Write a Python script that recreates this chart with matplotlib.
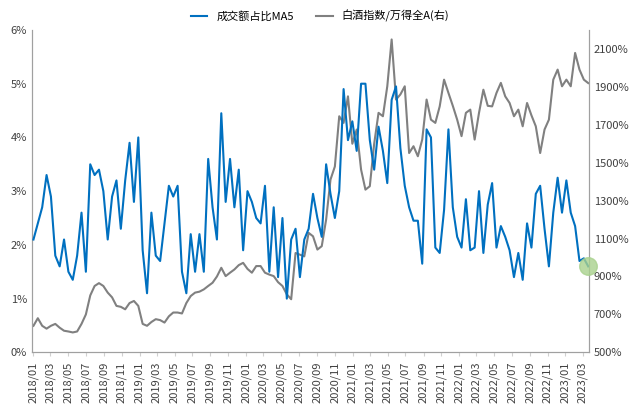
import matplotlib
matplotlib.use('Agg')
import matplotlib.pyplot as plt
import matplotlib.dates as mdates
from matplotlib.ticker import FuncFormatter
import pandas as pd
import numpy as np

plt.rcParams['font.family'] = ['Noto Sans CJK SC', 'DejaVu Sans']

# 约半月一个点 2018/01 - 2023/03
dates = pd.date_range('2018-01-02', '2023-03-20', periods=128)

# 成交额占比MA5 (%)
share_ma5 = [
    2.1, 2.4, 2.7, 3.3, 2.9, 1.8, 1.6, 2.1, 1.5, 1.35, 1.8, 2.6,
    1.5, 3.5, 3.3, 3.4, 3.0, 2.1, 2.9, 3.2, 2.3, 3.2, 3.9, 2.8,
    4.0, 1.9, 1.1, 2.6, 1.8, 1.7, 2.4, 3.1, 2.9, 3.1, 1.5, 1.1,
    2.2, 1.5, 2.2, 1.5, 3.6, 2.7, 2.1, 4.45, 2.8, 3.6, 2.7, 3.4,
    1.9, 3.0, 2.8, 2.5, 2.4, 3.1, 1.5, 2.7, 1.4, 2.5, 1.0, 2.1,
    2.3, 1.4, 2.1, 2.3, 2.95, 2.5, 2.15, 3.5, 2.95, 2.5, 3.0, 4.9,
    3.95, 4.3, 3.75, 5.0, 5.0, 3.95, 3.4, 4.2, 3.75, 3.15, 4.7, 4.95,
    3.8, 3.1, 2.7, 2.45, 2.45, 1.65, 4.15, 4.0, 1.95, 1.85, 2.65, 4.15,
    2.7, 2.15, 1.95, 2.85, 1.9, 1.95, 3.0, 1.85, 2.75, 3.15, 1.95, 2.35,
    2.15, 1.9, 1.4, 1.85, 1.35, 2.4, 1.95, 2.95, 3.1, 2.3, 1.6, 2.6,
    3.25, 2.6, 3.2, 2.6, 2.35, 1.7, 1.75, 1.6,
]

# 白酒指数/万得全A (%)
baijiu_ratio = [
    640, 680, 640, 625, 640, 650, 630, 614, 610, 605, 610, 650,
    700, 800, 850, 865, 850, 815, 790, 745, 740, 727, 760, 771,
    745, 650, 640, 660, 675, 670, 657, 690, 710, 710, 705, 760,
    797, 815, 820, 832, 850, 867, 900, 946, 902, 920, 937, 960,
    972, 940, 920, 955, 955, 920, 910, 902, 870, 850, 806, 780,
    1024, 1015, 1006, 1130, 1112, 1042, 1060, 1200, 1411, 1480, 1745, 1710,
    1850, 1600, 1675, 1464, 1358, 1376, 1600, 1763, 1745, 1903, 2150, 1833,
    1860, 1903, 1551, 1587, 1534, 1622, 1833, 1727, 1710, 1797, 1938, 1868,
    1800, 1727, 1640, 1763, 1780, 1622, 1763, 1885, 1800, 1797, 1868, 1921,
    1850, 1815, 1745, 1780, 1692, 1815, 1750, 1692, 1551, 1675, 1727, 1938,
    1991, 1903, 1938, 1903, 2079, 1991, 1938, 1920,
]

fig, ax = plt.subplots(figsize=(6.4, 4.05), dpi=100)
ax2 = ax.twinx()

l1, = ax.plot(dates, share_ma5, color='#0070C0', lw=1.5, label='成交额占比MA5', zorder=3)
l2, = ax2.plot(dates, baijiu_ratio, color='#808080', lw=1.5, label='白酒指数/万得全A(右)')
ax.set_zorder(ax2.get_zorder() + 1)
ax.patch.set_visible(False)

# 末端高亮圆点
ax.scatter([dates[-1]], [share_ma5[-1]], s=160, color='#A9D18E', alpha=0.8,
           zorder=4, clip_on=False)

ax.set_ylim(0, 6)
ax2.set_ylim(500, 2200)
ax.set_yticks(np.arange(0, 7, 1))
ax2.set_yticks(np.arange(500, 2200, 200))
ax.yaxis.set_major_formatter(FuncFormatter(lambda v, p: f'{v:.0f}%'))
ax2.yaxis.set_major_formatter(FuncFormatter(lambda v, p: f'{v:.0f}%'))

ax.set_xlim(pd.Timestamp('2017-12-28'), pd.Timestamp('2023-03-22'))
ax.xaxis.set_major_locator(mdates.MonthLocator(bymonth=range(1, 13, 2)))
ax.xaxis.set_major_formatter(mdates.DateFormatter('%Y/%m'))
plt.setp(ax.get_xticklabels(), rotation=90)

for a in (ax, ax2):
    a.spines['top'].set_visible(False)
    for s in ('left', 'right', 'bottom'):
        a.spines[s].set_color('#A0A0A0')
    a.tick_params(labelsize=8, colors='#404040', length=3)
ax.tick_params(axis='y', length=0)
ax2.tick_params(axis='y', length=0)
ax.tick_params(axis='x', colors='#D0D0D0', labelcolor='#404040')

fig.legend(handles=[l1, l2], loc='upper center', ncol=2, frameon=False,
           fontsize=8, bbox_to_anchor=(0.5, 1.0), handlelength=1.5)

fig.subplots_adjust(left=0.05, right=0.92, top=0.926, bottom=0.13)
fig.savefig('out.png')
